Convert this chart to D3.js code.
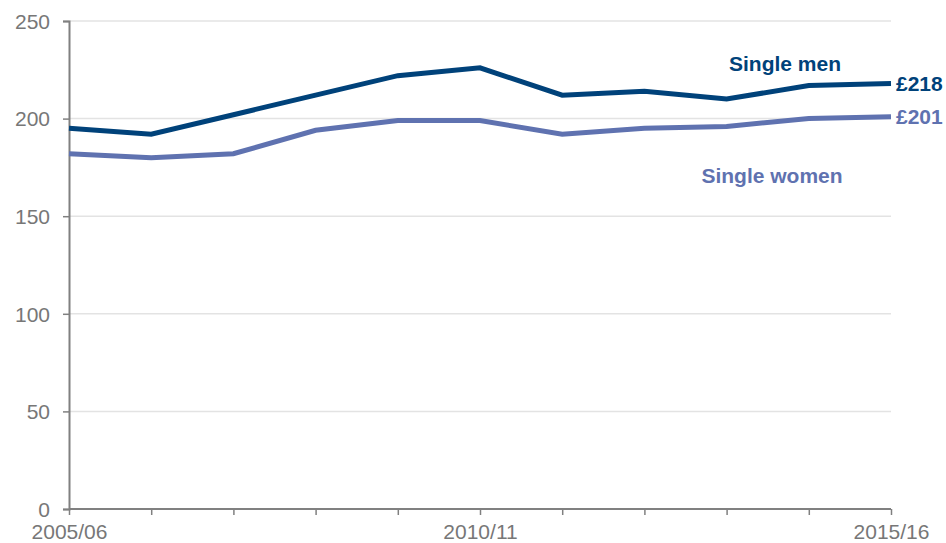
<!DOCTYPE html>
<html><head><meta charset="utf-8">
<script src="https://cdn.jsdelivr.net/npm/d3@7"></script>
<style>body{margin:0;background:#fff;}svg{display:block;font-family:"Liberation Sans",Arial,sans-serif;}</style>
</head><body><svg id="c" width="946" height="543"></svg>
<script>
const years = ["2005/06","2006/07","2007/08","2008/09","2009/10","2010/11","2011/12","2012/13","2013/14","2014/15","2015/16"];
const menValues = [195,192,202,212,222,226,212,214,210,217,218];
const womenValues = [182,180,182,194,199,199,192,195,196,200,201];
const yTicks = [0,50,100,150,200,250];
const xTickLabels = ["2005/06","2010/11","2015/16"];
const menColor = "#00427a", womenColor = "#5f72b0";

const svg = d3.select("#c");
const x = d3.scalePoint().domain(years).range([69,891]);
const y = d3.scaleLinear().domain([0,250]).range([509,21]);

svg.append("g").selectAll("line").data(yTicks.filter(d=>d>0)).join("line")
  .attr("x1",69).attr("x2",891).attr("y1",d=>y(d)).attr("y2",d=>y(d))
  .attr("stroke","#e3e3e3").attr("stroke-width",1.5);

const ya = svg.append("g").attr("transform","translate(69,0)")
  .call(d3.axisLeft(y).tickValues(yTicks).tickSize(6).tickPadding(13));
ya.select(".domain").attr("stroke","#808080").attr("stroke-width",2);
ya.selectAll(".tick line").attr("stroke","#808080").attr("stroke-width",1.5);
ya.selectAll("text").attr("fill","#777").style("font-size","21px").attr("dy","0.35em");

const xa = svg.append("g").attr("transform","translate(0,509)")
  .call(d3.axisBottom(x).tickSize(6).tickPadding(9).tickFormat(d=>xTickLabels.includes(d)?d:""));
xa.select(".domain").attr("stroke","#808080").attr("stroke-width",2).attr("d","M69,0H891");
xa.selectAll(".tick line").attr("stroke","#808080").attr("stroke-width",1.5);
xa.selectAll("text").attr("fill","#777").style("font-size","21px");

const line = d3.line().x((d,i)=>x(years[i])).y(d=>y(d));
svg.append("path").datum(womenValues).attr("d",line).attr("fill","none")
  .attr("stroke",womenColor).attr("stroke-width",5).attr("stroke-linejoin","miter");
svg.append("path").datum(menValues).attr("d",line).attr("fill","none")
  .attr("stroke",menColor).attr("stroke-width",5).attr("stroke-linejoin","miter");

const last = years.length-1;
svg.append("text").attr("x",x(years[last])+5).attr("y",y(menValues[last])).attr("dy","0.35em")
  .attr("fill",menColor).style("font-size","21px").style("font-weight","bold").text("£"+menValues[last]);
svg.append("text").attr("x",x(years[last])+5).attr("y",y(womenValues[last])).attr("dy","0.35em")
  .attr("fill",womenColor).style("font-size","21px").style("font-weight","bold").text("£"+womenValues[last]);
svg.append("text").attr("x",785).attr("y",71).attr("text-anchor","middle")
  .attr("fill",menColor).style("font-size","21px").style("font-weight","bold").text("Single men");
svg.append("text").attr("x",772).attr("y",183).attr("text-anchor","middle")
  .attr("fill",womenColor).style("font-size","21px").style("font-weight","bold").text("Single women");
</script></body></html>
